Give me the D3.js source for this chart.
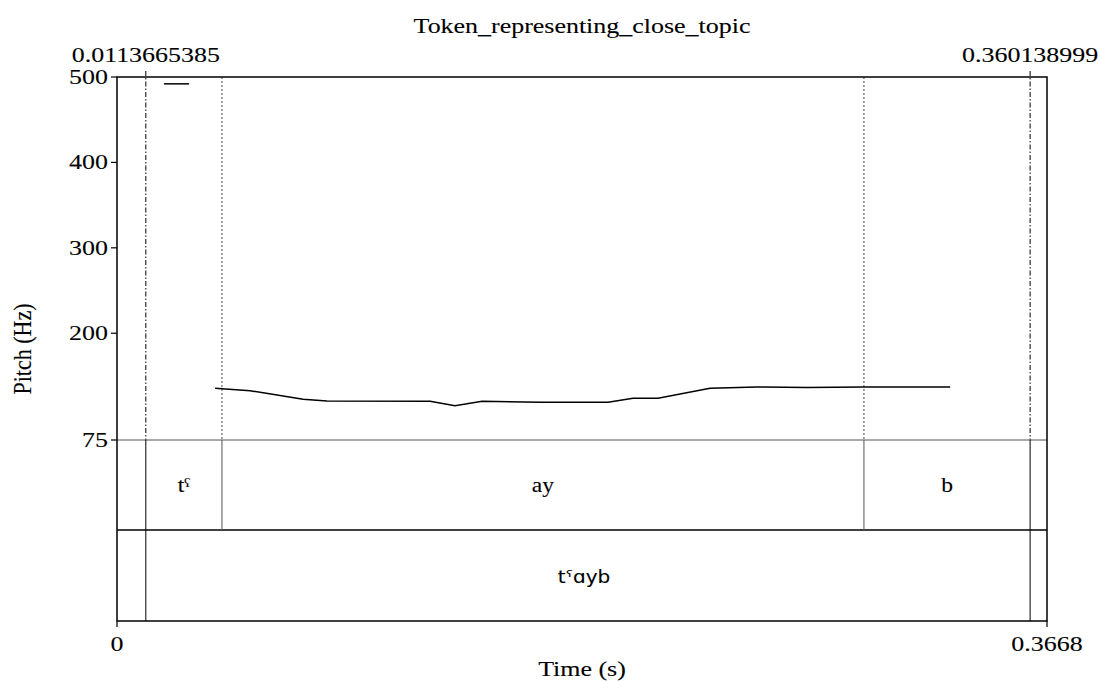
<!DOCTYPE html>
<html>
<head>
<meta charset="utf-8">
<script src="https://cdn.jsdelivr.net/npm/d3@7"></script>
<style>
  html, body { margin: 0; padding: 0; background: #fff; }
  svg { display: block; }
  text { font-family: "Liberation Serif", "Times New Roman", serif; fill: #000; stroke: #000; stroke-width: 0.1px; }
</style>
</head>
<body>
<svg id="chart" width="1100" height="681"></svg>
<script>
// Pitch contour (time in s, F0 in Hz)
const pitchTimes = [0.0387, 0.0525, 0.0734, 0.0828, 0.1235, 0.1333, 0.1440, 0.1668,
                    0.1937, 0.2035, 0.2134, 0.2339, 0.2524, 0.2722, 0.2942, 0.3286];
const pitchHz    = [135.5, 132.7, 122.6, 120.7, 120.3, 115.1, 120.3, 119.1,
                    119.1, 123.8, 123.8, 135.5, 137.0, 136.4, 137.0, 137.0];
// Short isolated pitch fragment near the top of the range
const fragTimes = [0.0185, 0.0284];
const fragHz    = [492, 492];

const timeDomain = [0, 0.3668];
const pitchDomain = [75, 500];
const yTicks = [75, 200, 300, 400, 500];
const xTickLabels = ["0", "0.3668"];

// Marks drawn above the plot
const markTimes = [0.0113665385, 0.360138999];
const markLabels = ["0.0113665385", "0.360138999"];

// TextGrid tiers
const tier1Bounds = [0.0113665385, 0.0414, 0.2946, 0.360138999];
const tier1Labels = ["tˤ", "ay", "b"];
const tier2Bounds = [0.0113665385, 0.360138999];
const tier2Labels = ["tˤɑyb"];

const title = "Token_representing_close_topic";

const L = 117, R = 1047, T = 77, PB = 440, TB1 = 530, B = 621;
const SX = 1.18; // horizontal text stretch

const svg = d3.select("#chart");
const x = d3.scaleLinear().domain(timeDomain).range([L, R]);
const y = d3.scaleLinear().domain(pitchDomain).range([PB, T]);

function stretchedText(g, tx, ty, str, opts) {
  const t = g.append("text")
    .attr("transform", `translate(${tx},${ty}) scale(${SX},1)` + (opts.rotate ? ` rotate(${opts.rotate})` : ""))
    .attr("text-anchor", opts.anchor || "middle")
    .style("font-size", (opts.size || 22) + "px")
    .text(str);
  if (opts.family) t.style("font-family", opts.family);
  return t;
}

// Dotted boundary lines in the pitch area (interior tier-1 boundaries)
const inner = tier1Bounds.filter(b => !markTimes.includes(b));
svg.append("g").selectAll("line").data(inner).join("line")
  .attr("x1", d => x(d)).attr("x2", d => x(d))
  .attr("y1", T).attr("y2", PB)
  .attr("stroke", "#444").attr("stroke-width", 1)
  .attr("stroke-dasharray", "2,2");

// Mark lines (dash-dot) with a tick above the frame
svg.append("g").selectAll("line").data(markTimes).join("line")
  .attr("x1", d => x(d)).attr("x2", d => x(d))
  .attr("y1", T - 6).attr("y2", PB)
  .attr("stroke", "#000").attr("stroke-width", 1)
  .attr("stroke-dasharray", "5,2,1.5,2");

markTimes.forEach((m, i) => stretchedText(svg, x(m), 62, markLabels[i], {}));

// Pitch curve
const line = d3.line().x(d => x(d[0])).y(d => y(d[1]));
svg.append("path")
  .datum(pitchTimes.map((t, i) => [t, pitchHz[i]]))
  .attr("d", line).attr("fill", "none")
  .attr("stroke", "#000").attr("stroke-width", 1.5);
svg.append("path")
  .datum(fragTimes.map((t, i) => [t, fragHz[i]]))
  .attr("d", line).attr("fill", "none")
  .attr("stroke", "#000").attr("stroke-width", 1.5);

// Tier separators
svg.append("line").attr("x1", L).attr("x2", R).attr("y1", PB).attr("y2", PB)
  .attr("stroke", "#555").attr("stroke-width", 1);
svg.append("line").attr("x1", L).attr("x2", R).attr("y1", TB1).attr("y2", TB1)
  .attr("stroke", "#000").attr("stroke-width", 1.3);

// Tier boundaries
svg.append("g").selectAll("line").data(tier1Bounds).join("line")
  .attr("x1", d => x(d)).attr("x2", d => x(d))
  .attr("y1", PB).attr("y2", TB1)
  .attr("stroke", d => markTimes.includes(d) ? "#000" : "#555").attr("stroke-width", 1);
svg.append("g").selectAll("line").data(tier2Bounds).join("line")
  .attr("x1", d => x(d)).attr("x2", d => x(d))
  .attr("y1", TB1).attr("y2", B)
  .attr("stroke", "#000").attr("stroke-width", 1);

// Tier labels
tier1Labels.forEach((lab, i) => {
  const cx = (x(tier1Bounds[i]) + x(tier1Bounds[i + 1])) / 2;
  stretchedText(svg, cx, 492, lab, { size: 20 });
});
tier2Labels.forEach((lab, i) => {
  const cx = (x(tier2Bounds[i]) + x(tier2Bounds[i + 1])) / 2;
  stretchedText(svg, cx - 4, 583, lab, { size: 17, family: "'DejaVu Sans', sans-serif" });
});

// Frame
svg.append("rect").attr("x", L).attr("y", T).attr("width", R - L).attr("height", B - T)
  .attr("fill", "none").attr("stroke", "#000").attr("stroke-width", 1.5);

// Y axis ticks and labels
svg.append("g").selectAll("line").data(yTicks).join("line")
  .attr("x1", L - 6).attr("x2", L).attr("y1", d => y(d)).attr("y2", d => y(d))
  .attr("stroke", "#000").attr("stroke-width", 1.2);
yTicks.forEach(v => stretchedText(svg, L - 9, y(v) + 7, String(v), { anchor: "end" }));

// X axis ticks and labels
svg.append("g").selectAll("line").data(timeDomain).join("line")
  .attr("x1", d => x(d)).attr("x2", d => x(d)).attr("y1", B).attr("y2", B + 6)
  .attr("stroke", "#000").attr("stroke-width", 1.2);
timeDomain.forEach((v, i) => stretchedText(svg, x(v), 651, xTickLabels[i], {}));

// Axis titles and chart title
stretchedText(svg, (L + R) / 2, 676, "Time (s)", {});
stretchedText(svg, 31, (T + B) / 2, "Pitch (Hz)", { rotate: -90 });
stretchedText(svg, (L + R) / 2, 33, title, {});
</script>
</body>
</html>
